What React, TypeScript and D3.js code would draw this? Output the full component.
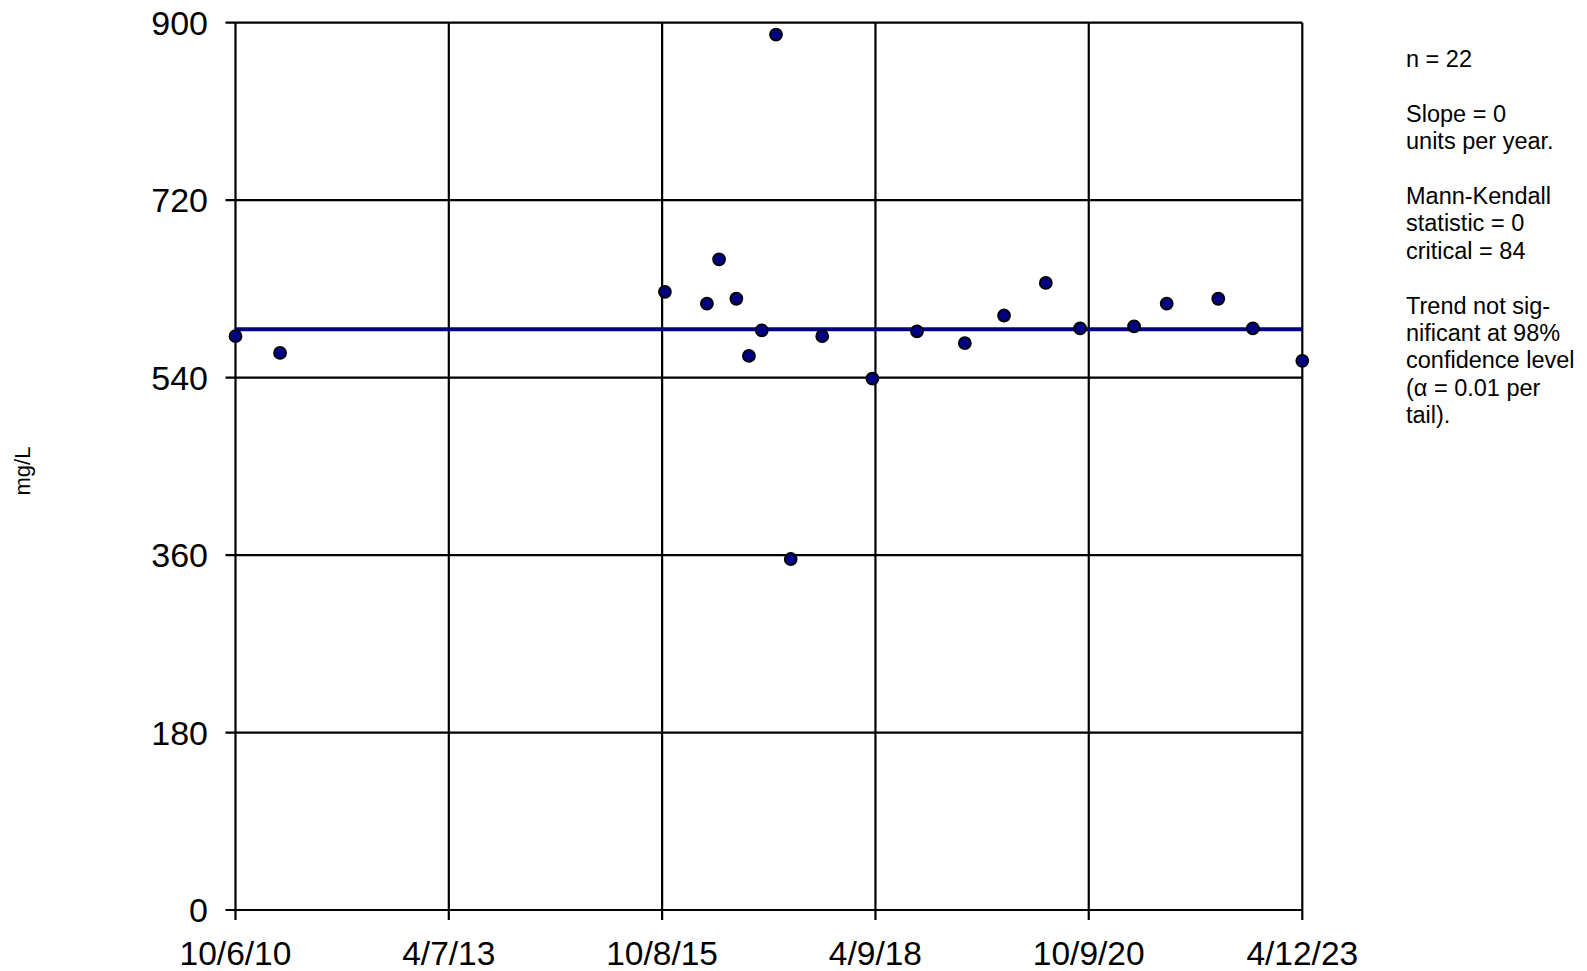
import React from "react";
import * as d3 from "d3";

const sampleDates = [
  "2010-10-06", "2011-04-15", "2015-10-20", "2016-04-17", "2016-06-08", "2016-08-21",
  "2016-10-14", "2016-12-08", "2017-02-07", "2017-04-11", "2017-08-24", "2018-03-27",
  "2018-10-04", "2019-04-27", "2019-10-12", "2020-04-08", "2020-09-02", "2021-04-21",
  "2021-09-08", "2022-04-17", "2022-09-12", "2023-04-12",
];
const sampleValues = [
  582, 565, 627, 615, 660, 620, 562, 588, 888, 356, 582, 539,
  587, 575, 603, 636, 590, 592, 615, 620, 590, 557,
];
const xTickDates = ["2010-10-06", "2013-04-07", "2015-10-08", "2018-04-09", "2020-10-09", "2023-04-12"];
const xTickLabels = ["10/6/10", "4/7/13", "10/8/15", "4/9/18", "10/9/20", "4/12/23"];
const yTicks = [0, 180, 360, 540, 720, 900];
const trendValue = 589;
const yAxisTitle = "mg/L";
const statLines = [
  "n = 22",
  "",
  "Slope = 0",
  "units per year.",
  "",
  "Mann-Kendall",
  "statistic = 0",
  "critical = 84",
  "",
  "Trend not sig-",
  "nificant at 98%",
  "confidence level",
  "(α = 0.01 per",
  "tail).",
];

const W = 1587;
const H = 971;
const LEFT = 235.5;
const RIGHT = 1302.3;
const TOP = 22.7;
const BOTTOM = 910;
const FONT = "'Liberation Sans', Arial, Helvetica, sans-serif";

export default function App() {
  const parse = d3.utcParse("%Y-%m-%d");
  const x = d3
    .scaleUtc()
    .domain([parse(xTickDates[0])!, parse(xTickDates[xTickDates.length - 1])!])
    .range([LEFT, RIGHT]);
  const y = d3.scaleLinear().domain([0, 900]).range([BOTTOM, TOP]);

  const points = sampleDates.map((d, i) => ({ date: parse(d)!, value: sampleValues[i] }));
  const trendLine = d3
    .line<number>()
    .x((d) => d)
    .y(() => y(trendValue));

  return (
    <svg
      width={W}
      height={H}
      style={{ position: "absolute", left: 0, top: 0, background: "#fff" }}
      fontFamily={FONT}
    >
      {yTicks.map((t) => (
        <g key={"y" + t}>
          <line x1={LEFT - 10} x2={RIGHT} y1={y(t)} y2={y(t)} stroke="#000" strokeWidth={2.2} />
          <text x={208} y={y(t)} dy="0.36em" textAnchor="end" fontSize={34} fill="#000">
            {t}
          </text>
        </g>
      ))}
      {xTickDates.map((d, i) => {
        const px = x(parse(d)!);
        return (
          <g key={"x" + d}>
            <line x1={px} x2={px} y1={TOP} y2={BOTTOM + 10} stroke="#000" strokeWidth={2.2} />
            <text x={px} y={965} textAnchor="middle" fontSize={33.5} fill="#000">
              {xTickLabels[i]}
            </text>
          </g>
        );
      })}
      <path d={trendLine([LEFT, RIGHT]) || ""} stroke="#000080" strokeWidth={4} fill="none" />
      {points.map((p, i) => (
        <circle
          key={i}
          cx={x(p.date)}
          cy={y(p.value)}
          r={6}
          fill="#000080"
          stroke="#000"
          strokeWidth={1.8}
        />
      ))}
      <text
        transform={`translate(22,471) rotate(-90)`}
        textAnchor="middle"
        dy="0.35em"
        fontSize={22}
        fill="#000"
      >
        {yAxisTitle}
      </text>
      {statLines.map((s, i) =>
        s ? (
          <text key={i} x={1406} y={58.8 + i * 27.4} dy="0.35em" fontSize={23.5} fill="#000">
            {s}
          </text>
        ) : null
      )}
    </svg>
  );
}
